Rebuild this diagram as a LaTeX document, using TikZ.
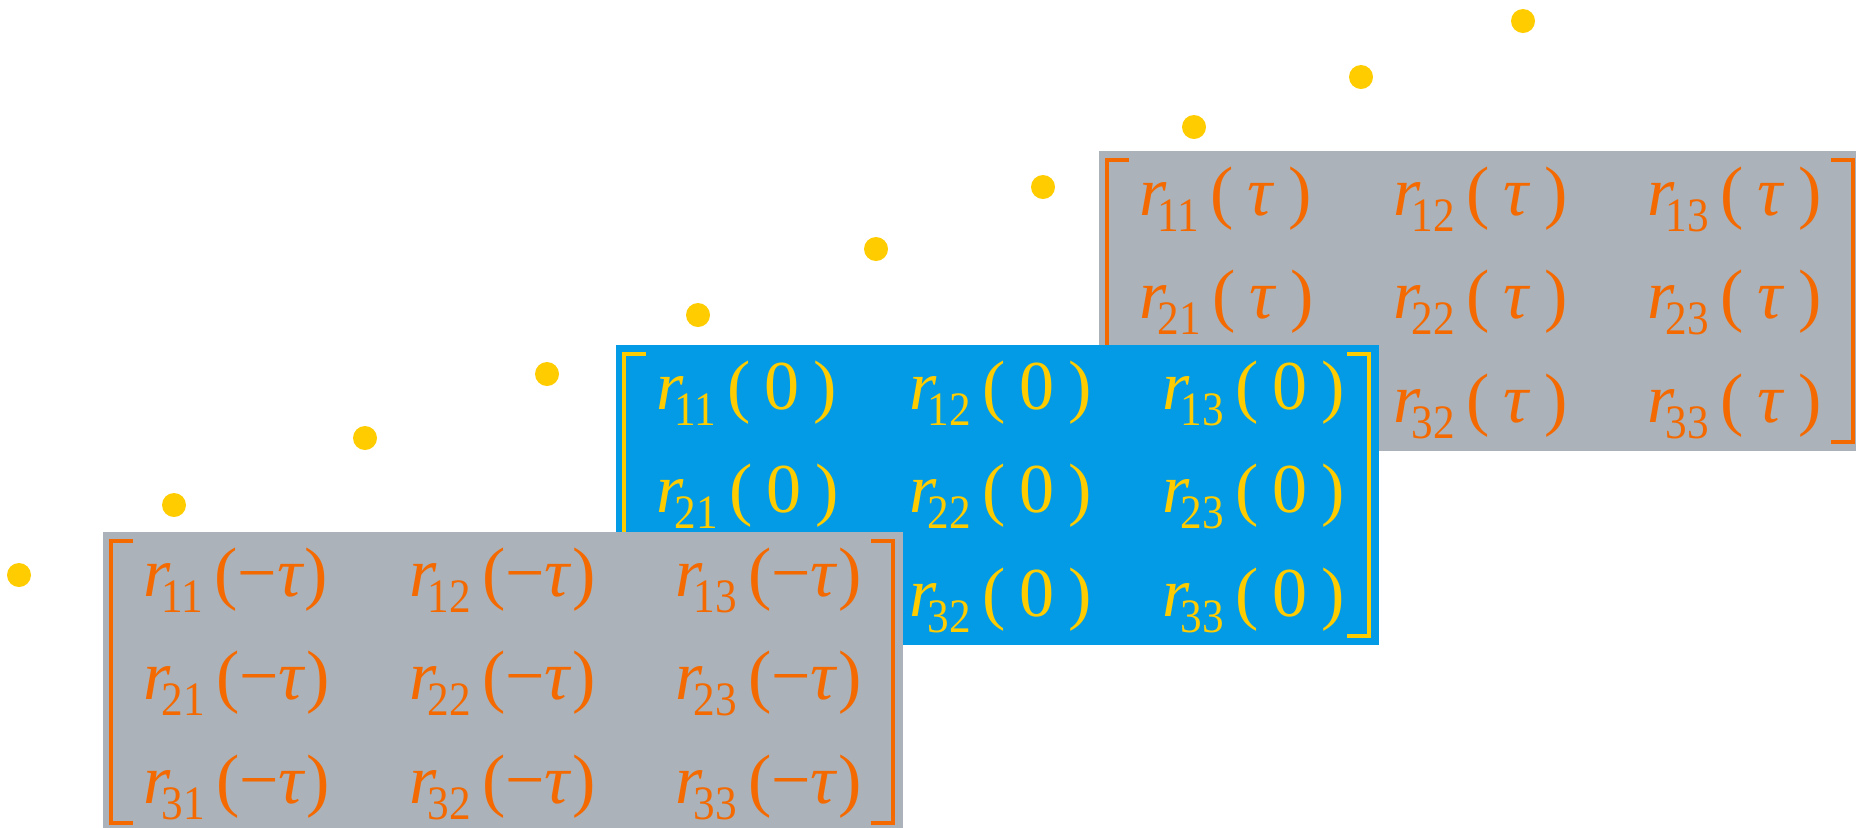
\documentclass[tikz,border=0pt]{standalone}
\usepackage{fontspec}
\setmainfont{Liberation Serif}
\usepackage{graphicx}
\usepackage{xcolor}
\usepackage{tikz}
\usetikzlibrary{positioning, calc}
\definecolor{matgray}{RGB}{171,178,185}
\definecolor{matblue}{RGB}{3,155,229}
\definecolor{matorange}{RGB}{245,106,0}
\definecolor{matyellow}{RGB}{255,204,0}
\newcommand\rr[1]{\textit{r}\kern-4.5pt\raisebox{-8pt}{\scalebox{.9}[1]{\fontsize{24}{24}\selectfont #1}}\kern5.5pt}
\newcommand\inpad[1]{\hspace{.2em}#1\hspace{.2em}}

\begin{document}
\begin{tikzpicture}[
  x=0.5pt, y=-0.5pt,
  panel/.style={fill=#1,inner sep=0pt,outer sep=0pt,anchor=north west,
                minimum height=150pt},
  entry/.style={text=#1,inner sep=0pt,anchor=base west,
                font=\fontsize{35}{42}\selectfont},
  brk/.style={draw=#1,line width=1.75pt},
  lag/.style={circle,fill=matyellow,inner sep=0pt,minimum size=12pt}
]
  \useasboundingbox (0,0) rectangle (1856,827);
  \clip (0,0) rectangle (1856,827);
  % lag points
  \foreach \p [count=\k] in {(19,575),(174,505),(365,438),(547,374),(698,315),
                             (876,249),(1043,187),(1194,127),(1361,77),(1523,21)}
    \node[lag] (d\k) at \p {};
  % three correlation matrices, back to front
  \foreach \nm/\px/\py/\w/\dx/\bg/\fg/\val in {
      hi/1099/151/382/254/matgray/matorange/{\inpad{\textit{τ}}},
      mid/616/345/381.5/253/matblue/matyellow/{\inpad{0}},
      lo/103/532/400/266/matgray/matorange/{−\textit{τ}}}
  {
    \node[panel=\bg,minimum width=\w pt] (\nm) at (\px,\py) {};
    \draw[brk=\fg] ($(\nm.north west)+(30,9)$) -| ($(\nm.south west)+(8,-9)$)
      -- ++(22,0);
    \draw[brk=\fg] ($(\nm.north east)+(-32,9)$) -| ($(\nm.south east)+(-10,-9)$)
      -- ++(-22,0);
    \foreach \i in {1,2,3}
      \foreach \j in {1,2,3}
        \node[entry=\fg] (\nm\i\j)
          at ($(\nm.north west)+({40+\dx*(\j-1)},{64+103.5*(\i-1)})$)
          {\rr{\i\j}(\val)};
  }
\end{tikzpicture}
\end{document}
